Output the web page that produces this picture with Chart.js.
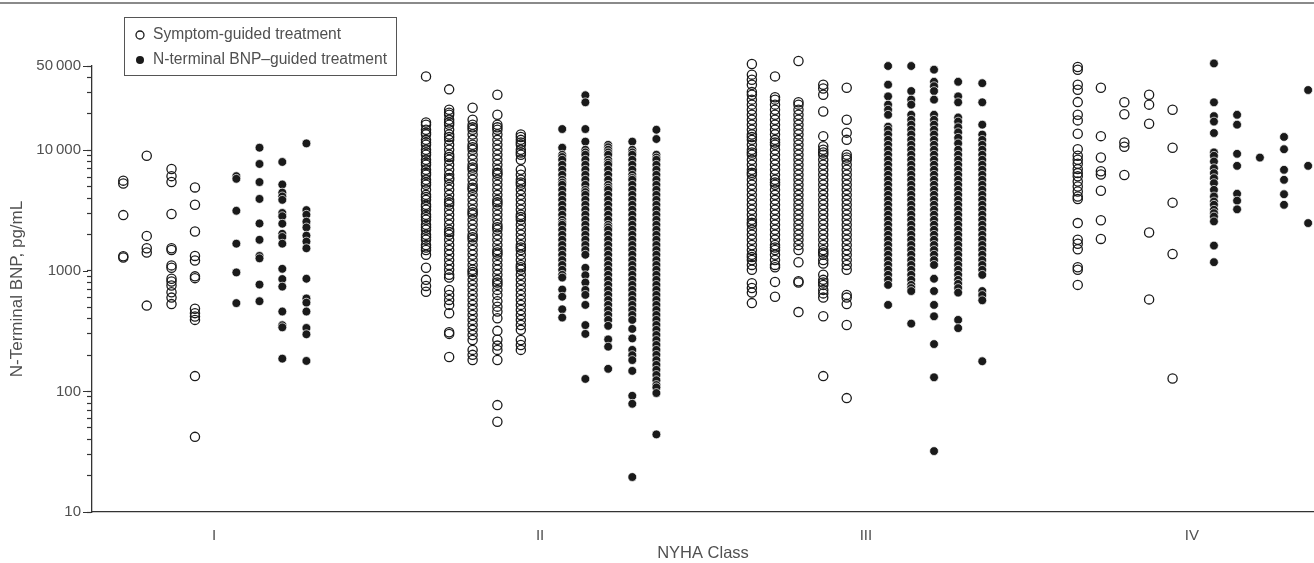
<!DOCTYPE html>
<html>
<head>
<meta charset="utf-8">
<script src="https://cdn.jsdelivr.net/npm/chart.js@4.4.1/dist/chart.umd.min.js"></script>
<style>
  html, body { margin: 0; padding: 0; background: #fff; overflow: hidden; }
  canvas { display: block; }
</style>
</head>
<body>
<canvas id="bnpChart" width="1314" height="563"></canvas>
<script>
const nyhaClasses = ['I', 'II', 'III', 'IV'];

// NT-proBNP (pg/mL) per NYHA class, five visit columns left to right
const symptomI = [
  [],
  [5600, 5300, 2900, 1320, 1290],
  [9000, 1950, 1540, 1420, 515],
  [7000, 6100, 5450, 2960, 1540, 1490, 1110, 1060, 860, 815, 755, 665, 600, 530],
  [4920, 3530, 2120, 1330, 1220, 900, 870, 485, 446, 418, 392, 134, 42]
];
const ntbnpI = [
  [6100, 5800, 3150, 1680, 970, 540],
  [10500, 7700, 5450, 3950, 2470, 1810, 1330, 1270, 770, 560],
  [8000, 5200, 4460, 4140, 3880, 3020, 2840, 2460, 2030, 1910, 1680, 1040, 855, 740, 460, 354, 340, 187],
  [11400, 3190, 2920, 2560, 2290, 1960, 1750, 1540, 860, 590, 545, 460, 336, 298, 179],
  []
];

const symptomII = [
  [41000, 17000, 16300, 14800, 14000, 13500, 12200, 11600, 11100, 10100, 9600, 9180, 8340, 7900, 7580, 6890, 6500, 6260,
   5690, 5400, 5170, 4700, 4270, 4100, 3880, 3530, 3400, 3210, 2920, 2800, 2650, 2410, 2300, 2190, 1990, 1900, 1810,
   1640, 1560, 1490, 1360, 1060, 842, 750, 670],
  [32000, 21700, 20500, 19700, 17900, 17000, 16300, 14800, 13500, 12900, 12200, 11100, 10100, 9180, 8800, 8340, 7580,
   6890, 6260, 5900, 5690, 5170, 4700, 4270, 3880, 3700, 3530, 3210, 2920, 2650, 2410, 2190, 2100, 1990, 1810, 1640,
   1490, 1360, 1230, 1120, 1020, 927, 880, 695, 632, 574, 522, 445, 310, 300, 193],
  [22500, 17900, 16300, 15500, 14800, 13500, 12200, 11100, 10600, 10100, 9180, 8340, 7580, 7200, 6890, 6260, 5690, 5170,
   4900, 4700, 4270, 3880, 3530, 3210, 3050, 2920, 2650, 2410, 2190, 1990, 1900, 1810, 1640, 1490, 1360, 1230, 1120,
   1020, 980, 927, 842, 765, 695, 632, 574, 522, 474, 431, 392, 356, 324, 294, 267, 221, 201, 182],
  [28900, 19700, 16300, 15500, 14800, 13500, 12200, 11100, 10100, 9180, 8340, 7580, 6890, 6500, 6260, 5690, 5170, 4700,
   4270, 3880, 3700, 3530, 3210, 2920, 2650, 2410, 2300, 2190, 1990, 1810, 1640, 1490, 1420, 1360, 1230, 1120, 1020,
   927, 842, 800, 765, 695, 632, 560, 505, 460, 405, 318, 268, 240, 221, 182, 77, 56],
  [13500, 12900, 12200, 11600, 11100, 10100, 9600, 9180, 8340, 6890, 6260, 5690, 5400, 5170, 4700, 4270, 3880, 3530,
   3210, 2920, 2800, 2650, 2410, 2190, 1990, 1810, 1640, 1560, 1490, 1360, 1230, 1120, 1070, 1020, 927, 842, 765, 695,
   632, 574, 522, 474, 431, 392, 356, 324, 267, 243, 221]
];
const ntbnpII = [
  [15000, 10500, 9180, 8800, 8340, 7580, 6890, 6260, 5690, 5400, 5170, 4700, 4270, 3880, 3530, 3210, 2920, 2650, 2500,
   2410, 2190, 1990, 1810, 1640, 1490, 1360, 1230, 1120, 1020, 927, 880, 700, 610, 480, 410],
  [28600, 25000, 15000, 11800, 10100, 9600, 9180, 8340, 7580, 6890, 6260, 5690, 5170, 4700, 4500, 4270, 3880, 3530,
   3210, 2920, 2650, 2410, 2190, 1990, 1810, 1640, 1490, 1360, 1060, 920, 800, 695, 632, 522, 355, 300, 127],
  [11100, 10600, 10100, 9600, 9180, 8340, 7900, 7580, 6890, 6260, 5690, 5170, 4900, 4700, 4270, 3880, 3530, 3210, 2920,
   2650, 2410, 2300, 2190, 1990, 1810, 1640, 1490, 1360, 1230, 1120, 1020, 927, 842, 765, 695, 632, 574, 522, 474, 431,
   392, 350, 270, 235, 154],
  [11800, 10100, 9600, 9180, 8340, 7580, 6890, 6260, 5900, 5690, 5170, 4700, 4270, 3880, 3530, 3210, 2920, 2650, 2410,
   2190, 1990, 1810, 1640, 1490, 1360, 1230, 1120, 1020, 927, 842, 765, 695, 632, 574, 522, 474, 431, 392, 330, 275,
   221, 200, 182, 148, 92, 79, 19.5],
  [14800, 12400, 9180, 8700, 8340, 7580, 6890, 6260, 5690, 5170, 4700, 4270, 3880, 3530, 3210, 2920, 2650, 2410, 2190,
   1990, 1810, 1640, 1490, 1360, 1230, 1120, 1020, 927, 842, 765, 695, 632, 574, 522, 474, 431, 392, 356, 324, 294,
   267, 243, 221, 201, 182, 166, 151, 137, 124, 113, 108, 97, 44]
];

const symptomIII = [
  [52000, 42400, 38500, 35000, 30500, 28900, 26300, 23900, 21700, 19700, 17900, 16300, 14800, 13500, 12900, 12200, 11100,
   10100, 9600, 9180, 8340, 7580, 6890, 6500, 6260, 5690, 5170, 4700, 4270, 3880, 3530, 3210, 2920, 2650, 2500, 2410,
   2190, 1990, 1810, 1640, 1490, 1360, 1300, 1230, 1120, 1020, 790, 720, 660, 540],
  [41000, 27500, 26300, 23900, 21700, 19700, 17900, 16300, 14800, 13500, 12200, 11600, 11100, 10100, 9180, 8340, 7580,
   6890, 6260, 5690, 5400, 5170, 4700, 4270, 3880, 3530, 3210, 2920, 2650, 2410, 2190, 1990, 1810, 1640, 1560, 1490,
   1360, 1230, 1120, 1070, 810, 610],
  [55000, 25000, 23900, 21700, 19700, 17900, 16300, 14800, 13500, 12200, 11100, 10100, 9180, 8340, 7580, 6890, 6260,
   5690, 5170, 4700, 4270, 3880, 3530, 3210, 2920, 2650, 2410, 2190, 1990, 1810, 1640, 1490, 1180, 820, 800, 455],
  [35000, 32500, 28900, 21000, 13100, 10800, 10100, 9600, 9180, 8340, 7580, 6890, 6260, 5690, 5170, 4700, 4270, 3880,
   3530, 3210, 2920, 2650, 2410, 2190, 1990, 1810, 1640, 1490, 1420, 1360, 1230, 1150, 927, 842, 800, 765, 695, 650,
   600, 420, 134],
  [33000, 17900, 14000, 12200, 9180, 8700, 8340, 7580, 6890, 6260, 5690, 5170, 4700, 4270, 3880, 3530, 3210, 2920, 2650,
   2410, 2190, 1990, 1810, 1640, 1490, 1360, 1230, 1120, 1020, 632, 600, 530, 356, 88]
];
const ntbnpIII = [
  [50000, 35000, 28000, 23900, 21700, 19700, 15700, 14800, 13500, 12200, 11100, 10100, 9180, 8340, 7580, 6890, 6260,
   5690, 5170, 4700, 4270, 3880, 3530, 3210, 2920, 2650, 2410, 2190, 1990, 1810, 1640, 1490, 1360, 1230, 1120, 1020,
   927, 842, 765, 522],
  [50000, 31000, 26300, 23900, 19700, 17900, 16300, 14800, 13500, 12200, 11100, 10100, 9180, 8340, 7580, 6890, 6260,
   5690, 5170, 4700, 4270, 3880, 3530, 3210, 2920, 2650, 2410, 2190, 1990, 1810, 1640, 1490, 1360, 1230, 1120, 1020,
   927, 842, 765, 720, 680, 365],
  [46600, 37000, 34000, 31000, 26300, 19700, 17900, 16300, 14800, 13500, 12200, 11100, 10100, 9180, 8340, 7580, 6890,
   6260, 5690, 5170, 4700, 4270, 3880, 3530, 3210, 2920, 2650, 2410, 2190, 1990, 1810, 1640, 1490, 1360, 1230, 1120,
   860, 680, 522, 420, 247, 131, 32],
  [37000, 28000, 25000, 18700, 17300, 15500, 14100, 12700, 11400, 10100, 9180, 8340, 7580, 6890, 6260, 5690, 5170, 4700,
   4270, 3880, 3530, 3210, 2920, 2650, 2410, 2190, 1990, 1810, 1640, 1490, 1360, 1230, 1120, 1020, 927, 842, 780, 720,
   660, 392, 335],
  [36000, 25000, 16300, 13500, 12200, 11100, 10100, 9180, 8340, 7580, 6890, 6260, 5690, 5170, 4700, 4270, 3880, 3530,
   3210, 2920, 2650, 2410, 2190, 1990, 1810, 1640, 1490, 1360, 1230, 1120, 1020, 927, 680, 630, 570, 178]
];

const symptomIV = [
  [49000, 46600, 35000, 31800, 25100, 19700, 17700, 13700, 10200, 9000, 8340, 7730, 6980, 6470, 6080, 5510, 5010, 4550,
   4140, 3940, 2490, 1810, 1680, 1510, 1070, 1020, 765],
  [33000, 13100, 8700, 6700, 6300, 4620, 2630, 1840],
  [25000, 19900, 11600, 10700, 6230],
  [28900, 23900, 16600, 2080, 580],
  [21700, 10500, 3680, 1380, 128]
];
const ntbnpIV = [
  [52500, 25000, 19200, 17300, 13900, 9600, 9000, 8070, 7100, 6470, 5870, 5340, 4700, 4140, 3760, 3530, 3210, 3010,
   2820, 2570, 1620, 1180],
  [19700, 16300, 9350, 7430, 4360, 3820, 3240],
  [8700],
  [12900, 10200, 6890, 5690, 4320, 3530],
  [31600, 7430, 2490]
];

const symptomByClass = [symptomI, symptomII, symptomIII, symptomIV];
const ntbnpByClass = [ntbnpI, ntbnpII, ntbnpIII, ntbnpIV];

const yTicks = [10, 20, 30, 40, 50, 60, 70, 80, 90, 100, 200, 300, 400, 500, 600, 700, 800, 900,
  1000, 2000, 3000, 4000, 5000, 6000, 7000, 8000, 9000, 10000, 20000, 30000, 40000, 50000];
const yLabelValues = [10, 100, 1000, 10000, 50000];
const yLabelTexts = ['10', '100', '1000', '10\u2009000', '50\u2009000'];

// column offsets inside one class (class width = 1)
const openOffsets = [-0.350, -0.279, -0.207, -0.131, -0.059];
const filledOffsets = [0.068, 0.139, 0.209, 0.283, 0.357];

function toPoints(byClass, offsets) {
  const pts = [];
  byClass.forEach((cols, c) => {
    cols.forEach((vals, k) => {
      vals.forEach(v => pts.push({ x: c + offsets[k], y: v }));
    });
  });
  return pts;
}

const ink = '#1a1a1a';
const textGrey = '#505050';
const fontFamily = '"Liberation Sans", Arial, Helvetica, sans-serif';

Chart.defaults.font.family = fontFamily;
Chart.defaults.font.size = 15;
Chart.defaults.color = textGrey;

// top rule, long major ticks and the boxed legend
const decorations = {
  id: 'decorations',
  beforeDraw(chart) {
    const ctx = chart.ctx;
    ctx.save();
    ctx.fillStyle = '#8a8a8a';
    ctx.fillRect(0, 2, chart.width, 2);
    ctx.restore();
  },
  afterDraw(chart) {
    const ctx = chart.ctx;
    const y = chart.scales.y;
    ctx.save();
    ctx.strokeStyle = '#333';
    ctx.lineWidth = 1.2;
    ctx.beginPath();
    yLabelValues.forEach(v => {
      const py = Math.round(y.getPixelForValue(v)) + 0.5;
      ctx.moveTo(y.right - 9, py);
      ctx.lineTo(y.right - 4, py);
    });
    ctx.stroke();

    // legend
    ctx.strokeStyle = '#555';
    ctx.lineWidth = 1;
    ctx.strokeRect(124.5, 17.5, 272, 58);
    ctx.font = '15.6px ' + fontFamily;
    ctx.fillStyle = textGrey;
    ctx.textBaseline = 'middle';
    const rows = [35, 60];
    chart.data.datasets.forEach((ds, i) => {
      ctx.beginPath();
      ctx.arc(140, rows[i], 4, 0, Math.PI * 2);
      if (i === 0) {
        ctx.strokeStyle = ink;
        ctx.lineWidth = 1.3;
        ctx.stroke();
      } else {
        ctx.fillStyle = ink;
        ctx.fill();
      }
      ctx.fillStyle = textGrey;
      ctx.fillText(ds.label, 153, rows[i]);
    });
    ctx.restore();
  }
};

new Chart(document.getElementById('bnpChart'), {
  type: 'scatter',
  data: {
    datasets: [{
      label: 'Symptom-guided treatment',
      data: toPoints(symptomByClass, openOffsets),
      pointRadius: 4.6,
      pointBackgroundColor: 'rgba(255,255,255,0)',
      pointBorderColor: ink,
      pointBorderWidth: 1.3,
      clip: false
    }, {
      label: 'N-terminal BNP\u2013guided treatment',
      data: toPoints(ntbnpByClass, filledOffsets),
      pointRadius: 4.4,
      pointBackgroundColor: ink,
      pointBorderColor: '#ffffff',
      pointBorderWidth: 0.7,
      clip: false
    }]
  },
  options: {
    responsive: false,
    animation: false,
    devicePixelRatio: 1,
    layout: { autoPadding: false, padding: { top: 66, right: 0, bottom: 0, left: 0 } },
    plugins: { legend: { display: false }, tooltip: { enabled: false } },
    scales: {
      x: {
        type: 'linear',
        min: -0.375,
        max: 3.375,
        afterBuildTicks: s => { s.ticks = nyhaClasses.map((_, i) => ({ value: i })); },
        afterFit: s => { s.height = 51; s.paddingLeft = 0; s.paddingRight = 0; },
        ticks: { autoSkip: false, padding: 7, color: textGrey, callback: v => nyhaClasses[v] },
        grid: { display: false },
        border: { display: true, color: '#333', width: 1.3 },
        title: {
          display: true, text: 'NYHA Class', color: textGrey,
          font: { size: 16.5 }, padding: { top: 0, bottom: 0 }
        }
      },
      y: {
        type: 'logarithmic',
        min: 10,
        max: 50000,
        afterBuildTicks: s => { s.ticks = yTicks.map(v => ({ value: v })); },
        afterFit: s => { s.width = 92; },
        ticks: {
          autoSkip: false,
          padding: 6,
          color: textGrey,
          callback: v => {
            const i = yLabelValues.indexOf(v);
            return i >= 0 ? yLabelTexts[i] : '';
          }
        },
        grid: { drawOnChartArea: false, drawTicks: true, tickLength: 5, tickColor: '#333', tickWidth: 1.2 },
        border: { display: true, color: '#333', width: 1.3 },
        title: {
          display: true, text: 'N-Terminal BNP, pg/mL', color: textGrey,
          font: { size: 17 }, padding: { top: 7, bottom: 0 }
        }
      }
    }
  },
  plugins: [decorations]
});
</script>
</body>
</html>
